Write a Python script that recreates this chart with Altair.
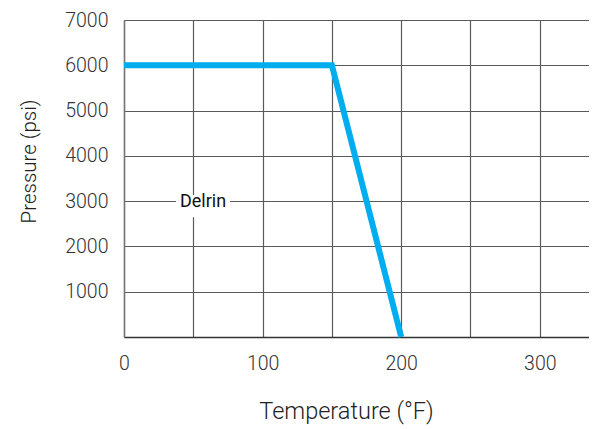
import altair as alt
import pandas as pd

# Data
temps = [0, 150, 200]
pressures = [6000, 6000, 0]
series = ["Delrin", "Delrin", "Delrin"]

label_text = ["Delrin"]
label_x = [57]
label_y = [3000]

x_grid = [0, 50, 100, 150, 200, 250, 300]
y_grid = [0, 1000, 2000, 3000, 4000, 5000, 6000, 7000]

df = pd.DataFrame({"temp": temps, "pressure": pressures, "series": series})
lab = pd.DataFrame({"text": label_text, "x": label_x, "y": label_y})

FONT = "Roboto"

xscale = alt.Scale(domain=[0, 335.5], nice=False, zero=False)
yscale = alt.Scale(domain=[0, 7000], nice=False)

xaxis = alt.Axis(
    values=x_grid,
    labelExpr="datum.value % 100 == 0 ? datum.label : ''",
    format="d", labelFlush=False,
    grid=True, gridColor="#5a5a5a", gridWidth=1.2, gridOpacity=1,
    ticks=False, domainColor="#333333", domainWidth=1.5,
    labelFont=FONT, labelFontSize=19.5, labelFontWeight=300, labelColor="#333333", labelPadding=17,
    titleFont=FONT, titleFontSize=23.5, titleFontWeight=300, titleColor="#222222",
    titlePadding=27, titleX=222,
)
yaxis = alt.Axis(
    values=y_grid,
    labelExpr="datum.value == 0 ? '' : datum.label",
    format="d", labelFlush=False,
    grid=True, gridColor="#5a5a5a", gridWidth=1.2, gridOpacity=1,
    ticks=False, domainColor="#777777", domainWidth=1.5,
    labelFont=FONT, labelFontSize=19.5, labelFontWeight=300, labelColor="#333333", labelPadding=16,
    titleFont=FONT, titleFontSize=20.5, titleFontWeight=300, titleColor="#222222",
    titlePadding=25, titleY=141,
)

line = alt.Chart(df).mark_line(color="#00AEEF", strokeWidth=6, strokeCap="butt").encode(
    x=alt.X("temp:Q", scale=xscale, axis=xaxis, title="Temperature (°F)"),
    y=alt.Y("pressure:Q", scale=yscale, axis=yaxis, title="Pressure (psi)"),
    detail="series:N",
)

box = alt.Chart(lab).mark_point(
    shape="M-1,-0.41L1,-0.41L1,0.41L-1,0.41Z",
    filled=True, fill="white", opacity=1, size=2916, yOffset=5,
).encode(
    x=alt.X("x:Q", scale=xscale),
    y=alt.Y("y:Q", scale=yscale),
)

text = alt.Chart(lab).mark_text(
    font=FONT, fontSize=18, fontWeight="normal", color="#111111", align="center", baseline="middle", dy=1,
).encode(
    x=alt.X("x:Q", scale=xscale),
    y=alt.Y("y:Q", scale=yscale),
    text="text:N",
)

chart = alt.layer(box, text, line).properties(
    width=465, height=317,
    autosize=alt.AutoSizeParams(type="none"),
    padding={"left": 116, "top": 12, "right": 0, "bottom": 92},
).configure_view(stroke=None)

chart.save("out.html", embed_options={"renderer": "svg", "actions": False})
